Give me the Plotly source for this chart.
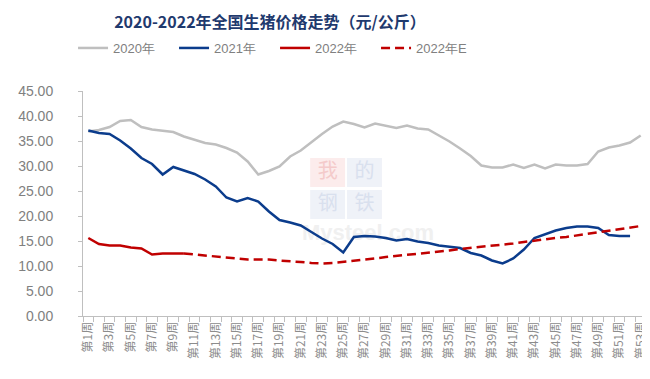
import plotly.graph_objects as go

weeks = list(range(1, 54))
week_labels = [f"第{n}周" for n in weeks]

price_2020 = [36.9, 37.2, 37.8, 39.0, 39.2, 37.8, 37.3, 37.1, 36.8, 35.9,
              35.3, 34.6, 34.3, 33.6, 32.7, 30.9, 28.3, 29.0, 29.9, 31.9,
              33.1, 34.8, 36.4, 37.9, 38.9, 38.4, 37.7, 38.5, 38.1, 37.6,
              38.1, 37.5, 37.3, 36.1, 34.9, 33.5, 32.0, 30.1, 29.7, 29.7,
              30.3, 29.6, 30.3, 29.5, 30.3, 30.1, 30.1, 30.4, 32.9, 33.7,
              34.1, 34.7, 36.1]

price_2021 = [37.1, 36.6, 36.4, 35.1, 33.5, 31.6, 30.4, 28.3, 29.8, 29.1,
              28.4, 27.3, 25.9, 23.7, 22.9, 23.6, 22.9, 20.9, 19.2, 18.7,
              18.1, 16.8, 15.5, 14.4, 12.7, 15.8, 16.0, 15.9, 15.6, 15.1,
              15.4, 14.9, 14.6, 14.1, 13.9, 13.6, 12.6, 12.1, 11.1, 10.5,
              11.5, 13.3, 15.6, 16.3, 17.1, 17.6, 17.9, 17.9, 17.6, 16.2,
              16.0, 16.0]

price_2022 = [15.6, 14.4, 14.1, 14.1, 13.7, 13.5, 12.3, 12.5, 12.5, 12.5]

price_2022e = [None] * 9 + [
    12.5, 12.3, 12.2, 12.0, 11.8, 11.5, 11.3, 11.3, 11.3, 11.1,
    11.0, 10.8, 10.6, 10.5, 10.6, 10.8, 11.0, 11.3, 11.5, 11.8,
    12.0, 12.3, 12.5, 12.7, 12.9, 13.1, 13.4, 13.6, 13.8, 14.0,
    14.3, 14.5, 14.8, 15.1, 15.3, 15.6, 15.8, 16.1, 16.4, 16.8,
    17.0, 17.3, 17.7, 18.0]

CJK = "Noto Sans CJK SC"

# plot-area pixel geometry (used only for the faint watermark and legend/title placement)
PL, PR, PT, PB = 75, 640, 83, 308


def px_x(p):
    return (p - PL) / (PR - PL)


def px_y(p):
    return (PB - p) / (PB - PT)


def dx(p):  # pixel -> data x
    return 0.5 + px_x(p) * 53


def dy(p):  # pixel -> data y
    return px_y(p) * 45


fig = go.Figure()

# ---- faint watermark, drawn first so the data lines sit on top ----
wm_boxes = [
    ("我", 303, 338, 150, 179, "#FCECEC", "#F4CACA"),
    ("的", 340, 375, 150, 179, "#EFF2F8", "#D9E0EE"),
    ("钢", 303, 338, 182, 211, "#EFF2F8", "#D9E0EE"),
    ("铁", 340, 375, 182, 211, "#EFF2F8", "#D9E0EE"),
]
for ch, x0, x1, y0, y1, bg, fg in wm_boxes:
    fig.add_shape(type="rect", xref="paper", yref="paper",
                  x0=px_x(x0), x1=px_x(x1), y0=px_y(y1), y1=px_y(y0),
                  fillcolor=bg, line=dict(width=0), layer="below")
    fig.add_trace(go.Scatter(x=[dx((x0 + x1) / 2)], y=[dy((y0 + y1) / 2)],
                             mode="text", text=[ch], showlegend=False,
                             hoverinfo="skip",
                             textfont=dict(family=CJK, size=20, color=fg)))
fig.add_trace(go.Scatter(x=[dx(361)], y=[dy(226)], mode="text",
                         text=["<b>Mysteel.com</b>"], showlegend=False,
                         hoverinfo="skip",
                         textfont=dict(family="Liberation Sans", size=22,
                                       color="#F0F0F0")))

# ---- data ----
fig.add_trace(go.Scatter(x=weeks[:len(price_2020)], y=price_2020, name="2020年",
                         mode="lines", line=dict(color="#BFBFBF", width=2.5)))
fig.add_trace(go.Scatter(x=weeks[:len(price_2021)], y=price_2021, name="2021年",
                         mode="lines", line=dict(color="#0B3C8C", width=2.5)))
fig.add_trace(go.Scatter(x=weeks[:len(price_2022)], y=price_2022, name="2022年",
                         mode="lines", line=dict(color="#C00000", width=2.5)))
fig.add_trace(go.Scatter(x=weeks, y=price_2022e, name="2022年E",
                         mode="lines", connectgaps=False,
                         line=dict(color="#C00000", width=2.5, dash="9px,5px")))

fig.update_layout(
    width=650, height=379,
    margin=dict(l=PL, r=650 - PR, t=PT, b=379 - PB),
    paper_bgcolor="white", plot_bgcolor="white",
    title=dict(text="<b>2020-2022年全国生猪价格走势（元/公斤）</b>",
               x=262 / 650, xanchor="center", y=1 - 14 / 379, yanchor="middle",
               font=dict(family=CJK, size=16, color="#1F3A6E")),
    legend=dict(orientation="h", x=px_x(65), xanchor="left",
                y=px_y(40), yanchor="middle",
                font=dict(family="Liberation Sans", size=13, color="#808080"),
                entrywidth=56, entrywidthmode="pixels",
                bgcolor="rgba(0,0,0,0)"),
    showlegend=True,
    hovermode=False,
)

fig.update_xaxes(
    type="linear", range=[0.5, 53.5],
    tickmode="array", tickvals=weeks[::2], ticktext=week_labels[::2],
    tickangle=-90, ticks="",
    tickfont=dict(family=CJK, size=12, color="#8C8C8C"),
    showline=True, linecolor="#BFBFBF", linewidth=1,
    showgrid=False, zeroline=False,
    minor=dict(tickmode="linear", tick0=0.5, dtick=1, ticks="outside",
               ticklen=5, tickcolor="#BFBFBF", showgrid=False),
)
fig.update_yaxes(
    range=[0, 45], dtick=5, tickformat=".2f",
    ticks="outside", ticklen=4, tickcolor="#BFBFBF",
    tickfont=dict(family="Liberation Sans", size=14, color="#808080"),
    showline=True, linecolor="#BFBFBF", linewidth=1,
    showgrid=False, zeroline=False, ticklabelstandoff=22,
)

fig.write_html("out.html")
